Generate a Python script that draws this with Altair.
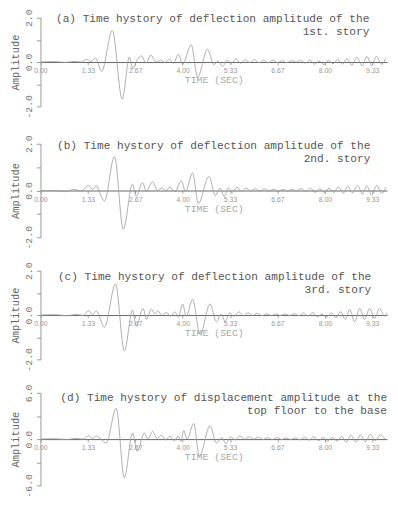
import altair as alt
import pandas as pd

# ---- data ----
XTICKS = [0.0, 1.333, 2.667, 4.0, 5.333, 6.667, 8.0, 9.333]

t_a = [0.00, 0.40, 0.70, 0.95, 1.15, 1.30, 1.42, 1.55, 1.72, 2.02, 2.30, 2.50, 2.60, 2.72, 2.84, 2.97,
       3.10, 3.25, 3.38, 3.50, 3.62, 3.74, 3.88, 4.00, 4.24, 4.42, 4.70, 4.88, 5.00, 5.12, 5.25, 5.37,
       5.50, 5.63, 5.76, 5.89, 6.02, 6.15, 6.28, 6.41, 6.54, 6.67, 6.80, 6.93, 7.06, 7.19, 7.32, 7.45,
       7.58, 7.71, 7.84, 7.97, 8.10, 8.23, 8.36, 8.50, 8.62, 8.76, 8.90, 9.05, 9.18, 9.32, 9.45, 9.60, 9.72]
v_a = [0.00, 0.02, -0.02, 0.03, 0.00, 0.12, 0.02, 0.18, -0.42, 1.42, -1.68, 0.22, -0.30, 0.10, 0.28, -0.05,
       0.32, 0.00, 0.08, -0.02, 0.12, -0.05, 0.35, -0.10, 0.78, -0.68, 0.58, -0.12, 0.05, -0.20, 0.08, -0.05,
       0.15, -0.05, 0.10, -0.02, 0.10, -0.03, 0.08, -0.03, 0.08, -0.02, 0.06, -0.03, 0.06, 0.00, 0.08, -0.05,
       0.10, -0.10, 0.05, -0.12, 0.08, -0.08, 0.12, -0.10, 0.15, -0.15, 0.22, -0.18, 0.25, -0.15, 0.25, -0.10, 0.20]

t_b = [0.00, 0.40, 0.70, 0.95, 1.15, 1.35, 1.46, 1.56, 1.80, 2.08, 2.33, 2.59, 2.69, 2.87, 2.98, 3.15,
       3.30, 3.42, 3.52, 3.64, 3.78, 3.96, 4.08, 4.28, 4.44, 4.74, 4.92, 5.05, 5.17, 5.28, 5.40, 5.52,
       5.65, 5.78, 5.91, 6.04, 6.17, 6.30, 6.43, 6.56, 6.69, 6.82, 6.95, 7.08, 7.21, 7.34, 7.47, 7.60,
       7.73, 7.86, 7.99, 8.12, 8.25, 8.38, 8.52, 8.64, 8.78, 8.92, 9.06, 9.18, 9.32, 9.46, 9.60, 9.72]
v_b = [0.00, 0.00, -0.05, 0.05, -0.03, 0.22, 0.03, 0.20, -0.45, 1.45, -1.65, 0.28, -0.25, 0.33, -0.02, 0.37,
       0.00, 0.12, -0.02, 0.15, -0.05, 0.42, -0.05, 0.75, -0.55, 0.60, -0.22, 0.10, -0.25, 0.12, -0.10, 0.15,
       -0.03, 0.10, -0.02, 0.08, -0.03, 0.08, -0.02, 0.06, -0.03, 0.05, -0.02, 0.05, -0.02, 0.08, -0.05, 0.10,
       -0.08, 0.08, -0.10, 0.10, -0.08, 0.15, -0.12, 0.18, -0.10, 0.22, -0.15, 0.20, -0.20, 0.22, -0.12, 0.15]

t_c = [0.00, 0.40, 0.75, 1.00, 1.20, 1.36, 1.46, 1.57, 1.80, 2.11, 2.36, 2.59, 2.69, 2.89, 2.98, 3.12,
       3.22, 3.30, 3.42, 3.54, 3.66, 3.78, 3.88, 4.00, 4.10, 4.28, 4.49, 4.77, 4.95, 5.08, 5.20, 5.32,
       5.45, 5.58, 5.71, 5.84, 5.97, 6.10, 6.23, 6.36, 6.49, 6.62, 6.75, 6.88, 7.01, 7.14, 7.27, 7.40,
       7.53, 7.66, 7.79, 7.92, 8.05, 8.18, 8.31, 8.44, 8.58, 8.70, 8.84, 8.98, 9.12, 9.26, 9.40, 9.54, 9.68, 9.75]
v_c = [0.00, 0.02, -0.03, 0.03, -0.02, 0.20, 0.02, 0.18, -0.55, 1.40, -1.62, 0.22, -0.50, 0.30, -0.20, 0.27,
       0.05, 0.20, -0.02, 0.12, -0.05, 0.15, -0.10, 0.50, -0.05, 0.70, -0.88, 0.50, -0.30, 0.05, -0.30, 0.10,
       -0.05, 0.15, -0.03, 0.10, -0.02, 0.08, -0.03, 0.06, -0.02, 0.05, -0.02, 0.05, -0.02, 0.06, -0.03, 0.10,
       -0.05, 0.12, -0.08, 0.05, -0.10, 0.10, -0.12, 0.15, -0.20, 0.25, -0.30, 0.30, -0.20, 0.30, -0.15, 0.30, -0.05, 0.10]

t_d = [0.00, 0.40, 0.75, 1.00, 1.20, 1.36, 1.46, 1.57, 1.85, 2.13, 2.36, 2.59, 2.72, 2.92, 3.02, 3.15,
       3.28, 3.40, 3.52, 3.64, 3.76, 3.88, 3.95, 4.03, 4.12, 4.31, 4.47, 4.77, 4.95, 5.10, 5.22, 5.35,
       5.48, 5.61, 5.74, 5.87, 6.00, 6.13, 6.26, 6.39, 6.52, 6.65, 6.78, 6.91, 7.04, 7.17, 7.30, 7.43,
       7.56, 7.69, 7.82, 7.95, 8.08, 8.21, 8.34, 8.47, 8.60, 8.73, 8.87, 9.00, 9.14, 9.28, 9.42, 9.56, 9.70]
v_d = [0.00, 0.05, -0.05, 0.10, 0.00, 0.45, 0.10, 0.40, -0.50, 4.00, -5.00, 0.80, -1.60, 0.80, 0.00, 1.00,
       0.10, 0.50, -0.10, 0.40, -0.20, 0.40, -0.30, 1.10, 0.00, 2.00, -2.20, 1.70, -0.50, 0.20, -0.60, 0.30,
       -0.10, 0.40, 0.00, 0.30, 0.00, 0.25, -0.05, 0.20, -0.05, 0.20, -0.05, 0.15, -0.05, 0.15, -0.10, 0.25,
       -0.15, 0.30, -0.20, 0.20, -0.30, 0.25, -0.25, 0.35, -0.40, 0.50, -0.40, 0.55, -0.35, 0.60, -0.20, 0.55, -0.05]

TITLES = [
    ["(a) Time hystory of deflection amplitude of the", "1st. story"],
    ["(b) Time hystory of deflection amplitude of the", "2nd. story"],
    ["(c) Time hystory of deflection amplitude of the", "3rd. story"],
    ["(d) Time hystory of displacement amplitude at the", "top floor to the base"],
]
YMAX = [2.0, 2.0, 2.0, 6.0]
YLAB = [["2.0", "0.0", "-2.0"]] * 3 + [["6.0", "0.0", "-6.0"]]

MONO = "Liberation Mono"


def panel(ts, vs, title, ymax, ylab, height, dx, toff):
    df = pd.DataFrame({"t": ts, "v": vs})
    half = ymax / 2
    label_expr = (
        f"datum.value == {ymax} ? '{ylab[0]}' : datum.value == 0 ? '{ylab[1]}' : "
        f"datum.value == {-ymax} ? '{ylab[2]}' : ''"
    )
    x = alt.X(
        "t:Q",
        scale=alt.Scale(domain=[0, 9.75], nice=False, zero=False),
        axis=alt.Axis(
            values=XTICKS, format=".2f", title="TIME (SEC)", offset=-height / 2,
            grid=False, labelFlush=False, labelOverlap=False,
            domainColor="#666", domainWidth=1, tickColor="#aaa", tickSize=3,
            labelFont="Liberation Sans", labelFontSize=7, labelColor="#999", labelPadding=2,
            titleFont=MONO, titleFontSize=10, titleFontWeight="normal", titleColor="#aaa",
            titlePadding=1,
        ),
    )
    y = alt.Y(
        "v:Q",
        scale=alt.Scale(domain=[-ymax, ymax], nice=False),
        axis=alt.Axis(
            values=[-ymax, -half, 0, half, ymax], labelExpr=label_expr, title="Amplitude",
            grid=False, domainColor="#999", tickColor="#999", tickSize=4,
            labelFont=MONO, labelFontSize=10, labelColor="#777", labelAngle=-90,
            labelAlign="center", labelBaseline="bottom", labelPadding=3,
            titleFont=MONO, titleFontSize=10.5, titleFontWeight="normal", titleColor="#666",
            titlePadding=3,
        ),
    )
    return (
        alt.Chart(df)
        .mark_line(interpolate="monotone", color="#9a9a9a", strokeWidth=0.8)
        .encode(x=x, y=y)
        .properties(
            width=352,
            height=height,
            title=alt.TitleParams(
                text=title, anchor="end", frame="group", align="right", dx=dx,
                offset=toff, baseline="top", font=MONO, fontSize=11.3,
                fontWeight="normal", color="#555", lineHeight=12.5,
            ),
        )
    )


HEIGHTS = [90, 95, 90, 94]
DXS = [-18, -17, -16, 0]
TOFFS = [-28.5, -29.5, -33.5, -32.5]
DATA = [(t_a, v_a), (t_b, v_b), (t_c, v_c), (t_d, v_d)]

panels = [
    panel(DATA[i][0], DATA[i][1], TITLES[i], YMAX[i], YLAB[i], HEIGHTS[i], DXS[i], TOFFS[i])
    for i in range(4)
]

lower = alt.vconcat(*panels[1:], spacing=34, bounds="flush")

chart = (
    alt.vconcat(panels[0], lower, spacing=38, bounds="flush")
    .properties(padding={"left": 2, "top": -4, "right": 0, "bottom": 0}, background="white")
    .configure_view(stroke="transparent")
)

chart.save("out.html", embed_options={"renderer": "svg", "actions": False})
